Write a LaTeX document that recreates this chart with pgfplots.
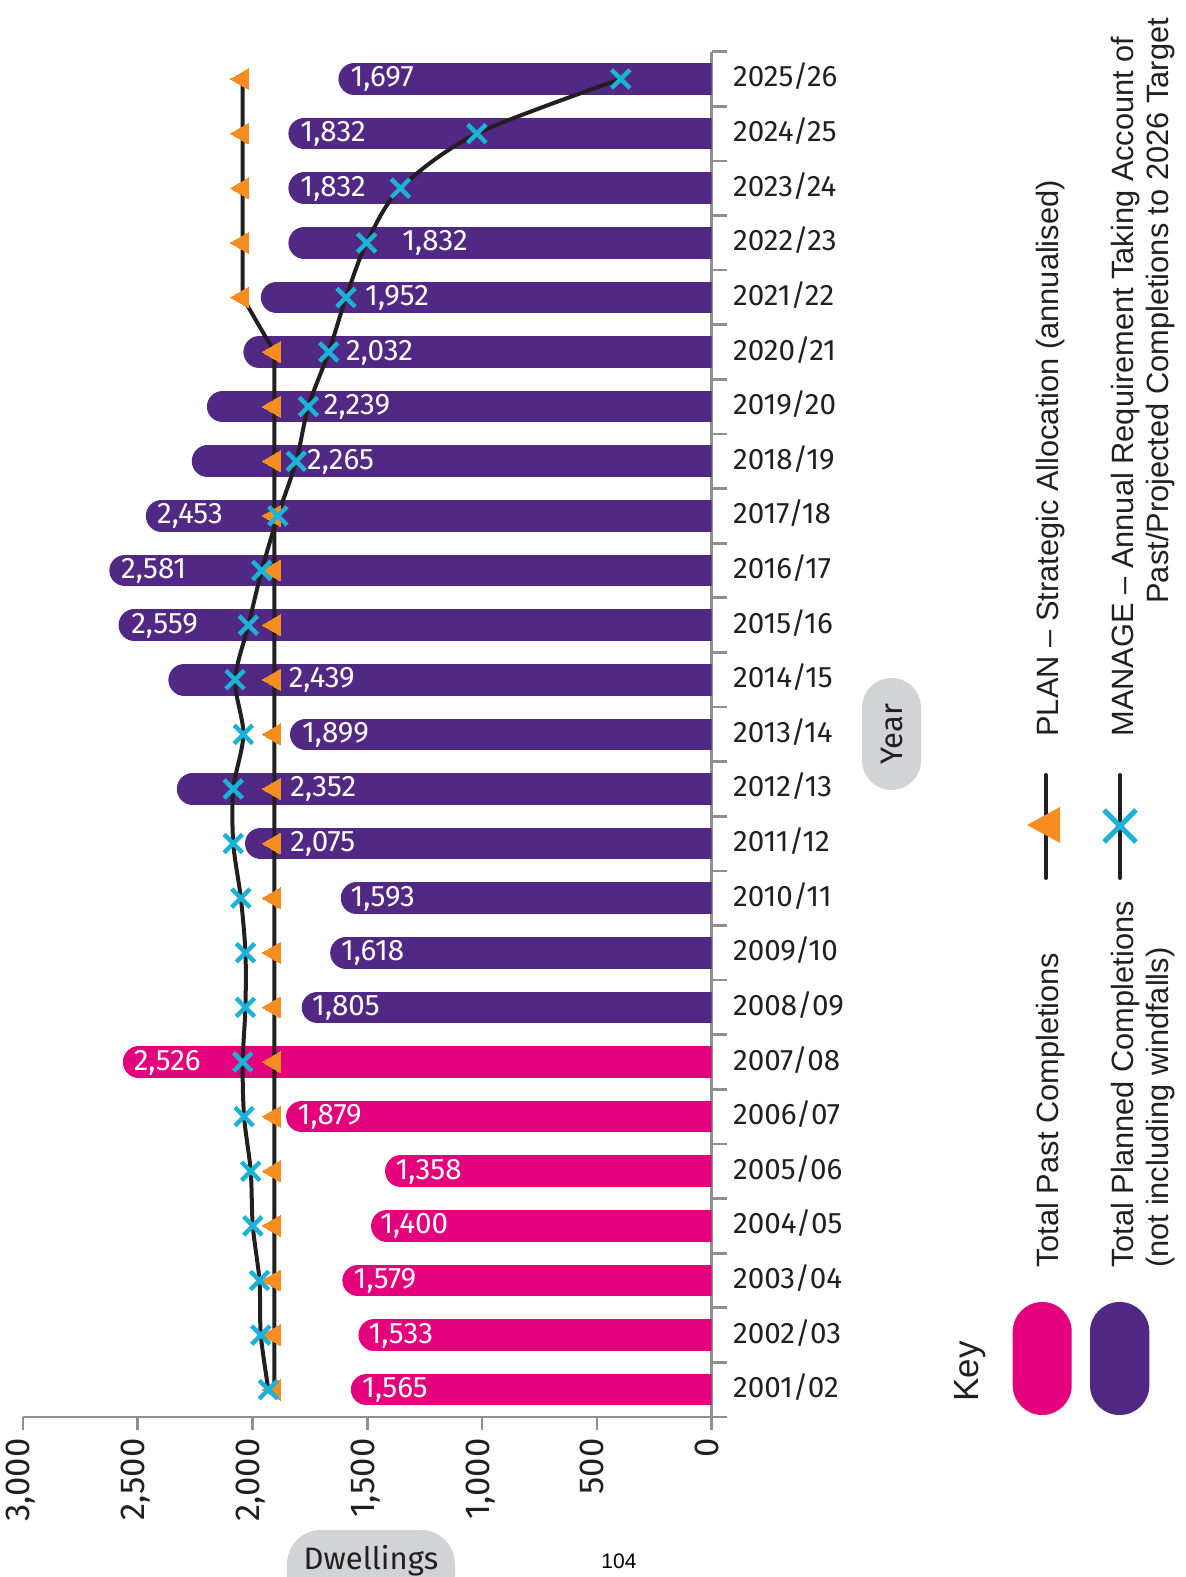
\documentclass[border=0pt]{standalone}
\usepackage{pgfplots}
\pgfplotsset{compat=1.18}
\usepackage{pgfplotstable}
\usepackage{fontspec}
\setmainfont{Fira Sans}
\newfontfamily\legfont{Liberation Sans}
\definecolor{cpink}{HTML}{E4007C}
\definecolor{cpurp}{HTML}{522885}
\definecolor{corange}{HTML}{F68D20}
\definecolor{ccyan}{HTML}{1CB2D8}
\definecolor{cline}{HTML}{231F20}
\definecolor{cgray}{HTML}{8D8F91}
\definecolor{cpill}{HTML}{D1D3D4}
\definecolor{ctext}{HTML}{231F20}
\tikzset{lab/.style={anchor=west, inner sep=0pt, text=white,
    font=\fontsize{14.8}{17}\selectfont, text height=0.8em, text depth=0pt}}

\pgfplotstableread{
i  bar   plan  manage
0  1572  1905  1931
1  1539  1905  1964
2  1609  1905  1970
3  1484  1905  1999
4  1423  1905  2008
5  1854  1905  2037
6  2565  1905  2043
7  1786  1905  2031
8  1662  1905  2031
9  1616  1905  2051
10 2033  1905  2084
11 2330  1905  2084
12 1837  1905  2040
13 2367  1905  2076
14 2584  1905  2018
15 2624  1905  1960
16 2465  1905  1890
17 2265  1905  1810
18 2199  1905  1757
19 2040  1905  1668
20 1964  2043  1593
21 1844  2043  1503
22 1844  2043  1356
23 1844  2043  1023
24 1626  2043  396
}\data

\begin{document}
\begin{tikzpicture}
\path[use as bounding box] (0,0) rectangle (593pt,788.5pt);
\begin{axis}[
  at={(11.5pt,80pt)}, anchor=south west,
  scale only axis, width=344.35pt, height=682.65pt,
  x dir=reverse, xmin=0, xmax=3000, ymin=-0.5, ymax=24.5,
  axis x line*=bottom, axis y line*=right,
  axis line style={draw=cgray, line width=1.35pt, -},
  xtick={0,500,...,3000}, scaled x ticks=false,
  ytick={0,...,24},
  yticklabels={2001/02,2002/03,2003/04,2004/05,2005/06,2006/07,2007/08,2008/09,2009/10,2010/11,2011/12,2012/13,2013/14,2014/15,2015/16,2016/17,2017/18,2018/19,2019/20,2020/21,2021/22,2022/23,2023/24,2024/25,2025/26},
  minor ytick={-0.5,0.5,...,24.5},
  tick align=outside, major tick length=6.5pt, minor tick length=7.5pt,
  tick style={draw=cgray, line width=1.35pt},
  major y tick style={draw=none},
  /pgf/number format/assume math mode=true,
  xticklabel shift=4pt,
  xticklabel style={rotate=90, anchor=east, inner sep=0pt, text=ctext,
    font=\fontsize{17.3}{20}\selectfont, text height=0.69em, text depth=0pt},
  yticklabel style={anchor=west, inner sep=0pt, xshift=4pt, text=ctext,
    font=\fontsize{14.8}{17}\selectfont, text height=0.8em, text depth=0pt},
]
\addplot[xcomb, draw=cpink, line width=15.8pt, line cap=round, mark=none,
  skip coords between index={7}{25}] table[x expr=\thisrow{bar}-69, y=i] {\data};
\addplot[xcomb, draw=cpurp, line width=15.8pt, line cap=round, mark=none,
  skip coords between index={0}{7}] table[x expr=\thisrow{bar}-69, y=i] {\data};
\addplot[line width=2pt, draw=cline, mark=triangle*, mark size=6pt,
  mark options={rotate=90, fill=corange, draw=corange, line width=0pt}] table[x=plan, y=i] {\data};
\addplot[line width=2pt, draw=cline, smooth, mark=x, mark size=6.5pt,
  mark options={draw=ccyan, line width=2.2pt, solid}] table[x=manage, y=i] {\data};

\node[lab] at (axis cs:1575,24) {1,697};
\node[lab] at (axis cs:1793,23) {1,832};
\node[lab] at (axis cs:1793,22) {1,832};
\node[lab] at (axis cs:1349,21) {1,832};
\node[lab] at (axis cs:1511,20) {1,952};
\node[lab] at (axis cs:1594,19) {2,032};
\node[lab] at (axis cs:1691,18) {2,239};
\node[lab] at (axis cs:1764,17) {2,265};
\node[lab] at (axis cs:2417,16) {2,453};
\node[lab] at (axis cs:2574,15) {2,581};
\node[lab] at (axis cs:2530,14) {2,559};
\node[lab] at (axis cs:1844,13) {2,439};
\node[lab] at (axis cs:1786,12) {1,899};
\node[lab] at (axis cs:1837,11) {2,352};
\node[lab] at (axis cs:1837,10) {2,075};
\node[lab] at (axis cs:1575,9) {1,593};
\node[lab] at (axis cs:1616,8) {1,618};
\node[lab] at (axis cs:1742,7) {1,805};
\node[lab] at (axis cs:2519,6) {2,526};
\node[lab] at (axis cs:1805,5) {1,879};
\node[lab] at (axis cs:1379,4) {1,358};
\node[lab] at (axis cs:1445,3) {1,400};
\node[lab] at (axis cs:1561,2) {1,579};
\node[lab] at (axis cs:1496,1) {1,533};
\node[lab] at (axis cs:1524,0) {1,565};
\end{axis}

\begin{scope}[x=0.5pt, y=-0.5pt, shift={(0,788.5pt)}]
  % Year pill
  \fill[cpill, rounded corners=14.75pt] (862,678) rectangle (921,790);
  \node[rotate=90, text=ctext, font=\fontsize{15.5}{18}\selectfont] at (891.5,734) {Year};
  % Dwellings pill
  \fill[cpill, rounded corners=17pt] (287,1530) rectangle (455,1610);
  \node[anchor=base, inner sep=0pt, text=ctext, font=\fontsize{15.5}{18}\selectfont] at (371,1570) {Dwellings};
  \node[anchor=base west, inner sep=0pt, font=\legfont\fontsize{10.5}{12}\selectfont] at (601,1568) {104};
  % Key
  \node[rotate=90, anchor=base west, inner sep=0pt, text=ctext, font=\legfont\fontsize{17.5}{20}\selectfont] at (978,1402) {Key};
  \fill[cpink, rounded corners=14.75pt] (1012.7,1302) rectangle (1071.7,1415);
  \fill[cpurp, rounded corners=14.75pt] (1090,1302) rectangle (1149.3,1415);
  \draw[cline, line width=2pt, line cap=round] (1046,775) -- (1046,878);
  \fill[corange] (1027,825) -- (1060,807) -- (1060,843) -- cycle;
  \draw[cline, line width=2pt, line cap=round] (1120,775) -- (1120,878);
  \draw[ccyan, line width=2.5pt] (1104,810) -- (1136,842) (1104,842) -- (1136,810);
  \begin{scope}[every node/.style={rotate=90, anchor=base west, inner sep=0pt, text=ctext, font=\legfont\fontsize{15.4}{18}\selectfont}]
    \node at (1058,1268) {Total Past Completions};
    \node at (1133,1268) {Total Planned Completions};
    \node at (1168,1268) {(not including windfalls)};
    \node at (1058,737) {PLAN – Strategic Allocation (annualised)};
    \node at (1133,737) {MANAGE – Annual Requirement Taking Account of};
    \node at (1168,604) {Past/Projected Completions to 2026 Target};
  \end{scope}
\end{scope}
\end{tikzpicture}
\end{document}
